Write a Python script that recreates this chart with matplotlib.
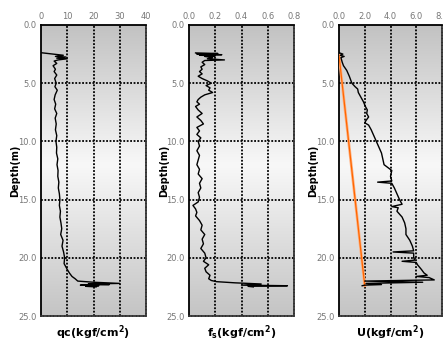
import numpy as np
import matplotlib
matplotlib.use("Agg")
import matplotlib.pyplot as plt
from matplotlib.colors import LinearSegmentedColormap

# ---------------- data ----------------
depth_qc = [2.38, 2.6, 2.7, 2.75, 2.85, 2.9, 3.0, 3.1, 3.3, 3.5, 3.8, 4.0, 4.3, 4.6, 5.0, 5.3,
            5.6, 6.0, 6.4, 6.8, 7.2, 7.6, 8.0, 8.5, 9.0, 9.5, 10.0, 10.5, 11.0, 11.5, 12.0,
            12.5, 13.0, 13.5, 14.0, 14.5, 15.0, 15.5, 16.0, 16.5, 17.0, 17.5, 18.0, 18.5,
            19.0, 19.5, 20.0, 20.5, 21.0, 21.3, 21.6, 21.8, 22.0, 22.1, 22.2, 22.25, 22.3,
            22.35, 22.4, 22.45, 22.5]
qc = [0, 8.5, 5.5, 9.5, 6.0, 10.0, 6.5, 5.0, 6.0, 4.6, 5.5, 5.0, 6.0, 5.2, 5.8, 5.3,
      6.2, 5.4, 5.0, 5.6, 5.2, 6.0, 5.4, 5.8, 5.5, 6.0, 5.7, 6.0, 5.9, 6.4, 6.1,
      6.5, 6.4, 6.8, 6.6, 7.0, 7.2, 7.0, 7.4, 7.2, 7.6, 7.9, 7.5, 8.4,
      8.0, 8.6, 9.0, 8.8, 10.0, 10.8, 11.8, 13.0, 14.0, 20.0, 30.0, 18.0, 26.0,
      15.0, 22.0, 17.0, 21.0]

depth_fs = [2.4, 2.45, 2.5, 2.55, 2.6, 2.65, 2.7, 2.8, 2.9, 3.0, 3.05, 3.2, 3.4, 3.6, 3.8,
            4.0, 4.2, 4.4, 4.6, 4.8, 5.0, 5.2, 5.4, 5.6, 5.8, 6.0, 6.2, 6.4, 6.6, 6.8, 7.0,
            7.3, 7.6, 7.9, 8.2, 8.5, 8.8, 9.1, 9.4, 9.7, 10.0, 10.4, 10.8, 11.2, 11.6, 12.0,
            12.4, 12.8, 13.2, 13.6, 14.0, 14.4, 14.8, 15.2, 15.5, 15.8, 16.1, 16.4, 16.8,
            17.2, 17.6, 18.0, 18.4, 18.8, 19.2, 19.6, 20.0, 20.3, 20.6, 20.9, 21.2, 21.5,
            21.8, 21.95, 22.05, 22.15, 22.25, 22.35, 22.4, 22.45, 22.5]
fs = [0.05, 0.22, 0.06, 0.25, 0.08, 0.2, 0.12, 0.18, 0.14, 0.27, 0.12, 0.1, 0.12, 0.09, 0.1,
      0.08, 0.1, 0.07, 0.1, 0.14, 0.17, 0.13, 0.16, 0.15, 0.18, 0.12, 0.09, 0.07, 0.06, 0.08, 0.05,
      0.07, 0.1, 0.06, 0.09, 0.11, 0.06, 0.08, 0.06, 0.09, 0.07, 0.08, 0.06, 0.08, 0.07, 0.06,
      0.08, 0.07, 0.1, 0.08, 0.09, 0.07, 0.08, 0.07, 0.03, 0.05, 0.06, 0.05, 0.08,
      0.1, 0.09, 0.12, 0.1, 0.11, 0.09, 0.12, 0.13, 0.11, 0.15, 0.12, 0.13, 0.16,
      0.15, 0.17, 0.21, 0.35, 0.55, 0.4, 0.75, 0.45, 0.49]

depth_u = [2.4, 2.5, 2.6, 2.7, 2.8, 3.0, 3.2, 3.5, 3.9, 4.4, 5.0, 5.3, 5.5, 5.8, 6.0, 6.3,
           6.6, 7.0, 7.3, 7.6, 7.9, 8.2, 8.4, 8.6, 9.0, 9.5, 10.0, 10.5, 11.0, 11.5, 12.0,
           12.5, 13.0, 13.4, 13.5, 13.6, 14.0, 14.5, 15.0, 15.4, 15.6, 15.7, 16.0, 16.5,
           17.0, 17.5, 18.0, 18.5, 19.0, 19.4, 19.5, 19.6, 20.0, 20.2, 20.3, 20.4, 20.6,
           21.0, 21.3, 21.5, 21.6, 21.7, 21.9, 22.0, 22.1, 22.2, 22.3, 22.35, 22.4]
u = [0.05, 0.3, 0.1, 0.4, 0.15, 0.2, 0.25, 0.35, 0.6, 0.8, 1.0, 1.25, 1.45, 1.5, 1.6, 1.75,
     1.9, 2.05, 2.2, 2.15, 2.3, 2.1, 2.0, 2.3, 2.5, 2.7, 2.9, 3.1, 3.3, 3.4, 3.5,
     4.1, 4.0, 4.1, 3.0, 4.1, 4.3, 4.5, 4.7, 4.9, 4.1, 4.6, 4.5, 4.9,
     5.1, 5.2, 5.2, 5.5, 5.7, 5.8, 4.2, 5.8, 5.8, 5.9, 4.9, 6.0, 6.1,
     6.4, 6.6, 6.85, 6.0, 7.0, 7.4, 2.0, 6.5, 2.1, 3.3, 2.0, 1.8]

depth_hydro = [2.6, 22.4]
u_hydro = [0.0, 2.0]

y_ticks = [0.0, 5.0, 10.0, 15.0, 20.0, 25.0]
qc_ticks = [0, 10, 20, 30, 40]
fs_ticks = [0.0, 0.2, 0.4, 0.6, 0.8]
u_ticks = [0.0, 2.0, 4.0, 6.0, 8.0]

# ---------------- figure ----------------
W, H = 443, 347
fig = plt.figure(figsize=(W / 100, H / 100), dpi=100)

def px_axes(l, r, t, b):
    return fig.add_axes([l / W, (H - b) / H, (r - l) / W, (b - t) / H])

cmap = LinearSegmentedColormap.from_list(
    "bg", [(0.0, "#c2c2c2"), (0.48, "#f8f8f8"), (1.0, "#c4c4c4")])
grad = np.linspace(0, 1, 256).reshape(-1, 1)

grid_ls = (0, (1.0, 0.9))

def style_axes(ax, xticks, xfmt, xlabel, ylab_x):
    xmin, xmax = xticks[0], xticks[-1]
    ax.imshow(grad, cmap=cmap, aspect="auto", extent=(xmin, xmax, 25, 0),
              zorder=0, interpolation="bilinear")
    ax.set_xlim(xmin, xmax)
    ax.set_ylim(25, 0)
    ax.xaxis.tick_top()
    ax.set_xticks(xticks)
    ax.set_xticklabels([xfmt.format(v) for v in xticks])
    ax.set_yticks(y_ticks)
    ax.set_yticklabels(["{:.1f}".format(v) for v in y_ticks])
    ax.tick_params(length=0, labelsize=6, labelcolor="#777777", pad=3)
    for v in xticks[1:-1]:
        ax.axvline(v, color="black", lw=1.3, ls=grid_ls, zorder=1)
    for v in y_ticks[1:-1]:
        ax.axhline(v, color="black", lw=1.3, ls=grid_ls, zorder=1)
    ax.spines["left"].set_linewidth(1.3)
    ax.spines["top"].set_linewidth(1.3)
    for s in ("right", "bottom"):
        ax.spines[s].set_linestyle(grid_ls)
        ax.spines[s].set_linewidth(1.3)
        ax.spines[s].set_color("#333333")
    ax.text(ylab_x, 0.5, "Depth(m)", transform=ax.transAxes, rotation=90,
            ha="center", va="center", fontsize=7, fontweight="bold")
    ax.text(0.5, -0.058, xlabel, transform=ax.transAxes, ha="center", va="center",
            fontsize=8, fontweight="bold")

ax1 = px_axes(41, 146, 25, 316)
style_axes(ax1, qc_ticks, "{:d}", "qc(kgf/cm$^\\mathbf{2}$)", -0.248)
ax1.plot(qc, depth_qc, color="black", lw=1.0, zorder=3)

ax2 = px_axes(189, 294, 25, 316)
style_axes(ax2, fs_ticks, "{:.1f}", "f$_\\mathbf{s}$(kgf/cm$^\\mathbf{2}$)", -0.238)
ax2.plot(fs, depth_fs, color="black", lw=1.0, zorder=3)

ax3 = px_axes(339, 442, 25, 316)
style_axes(ax3, u_ticks, "{:.1f}", "U(kgf/cm$^\\mathbf{2}$)", -0.25)
ax3.plot(u_hydro, depth_hydro, color="#ffb080", lw=2.0, zorder=3)
ax3.plot(u_hydro, depth_hydro, color="#ff6600", lw=0.9, zorder=3)
ax3.plot(u, depth_u, color="black", lw=1.0, zorder=4)

fig.savefig("out.png", dpi=100)
